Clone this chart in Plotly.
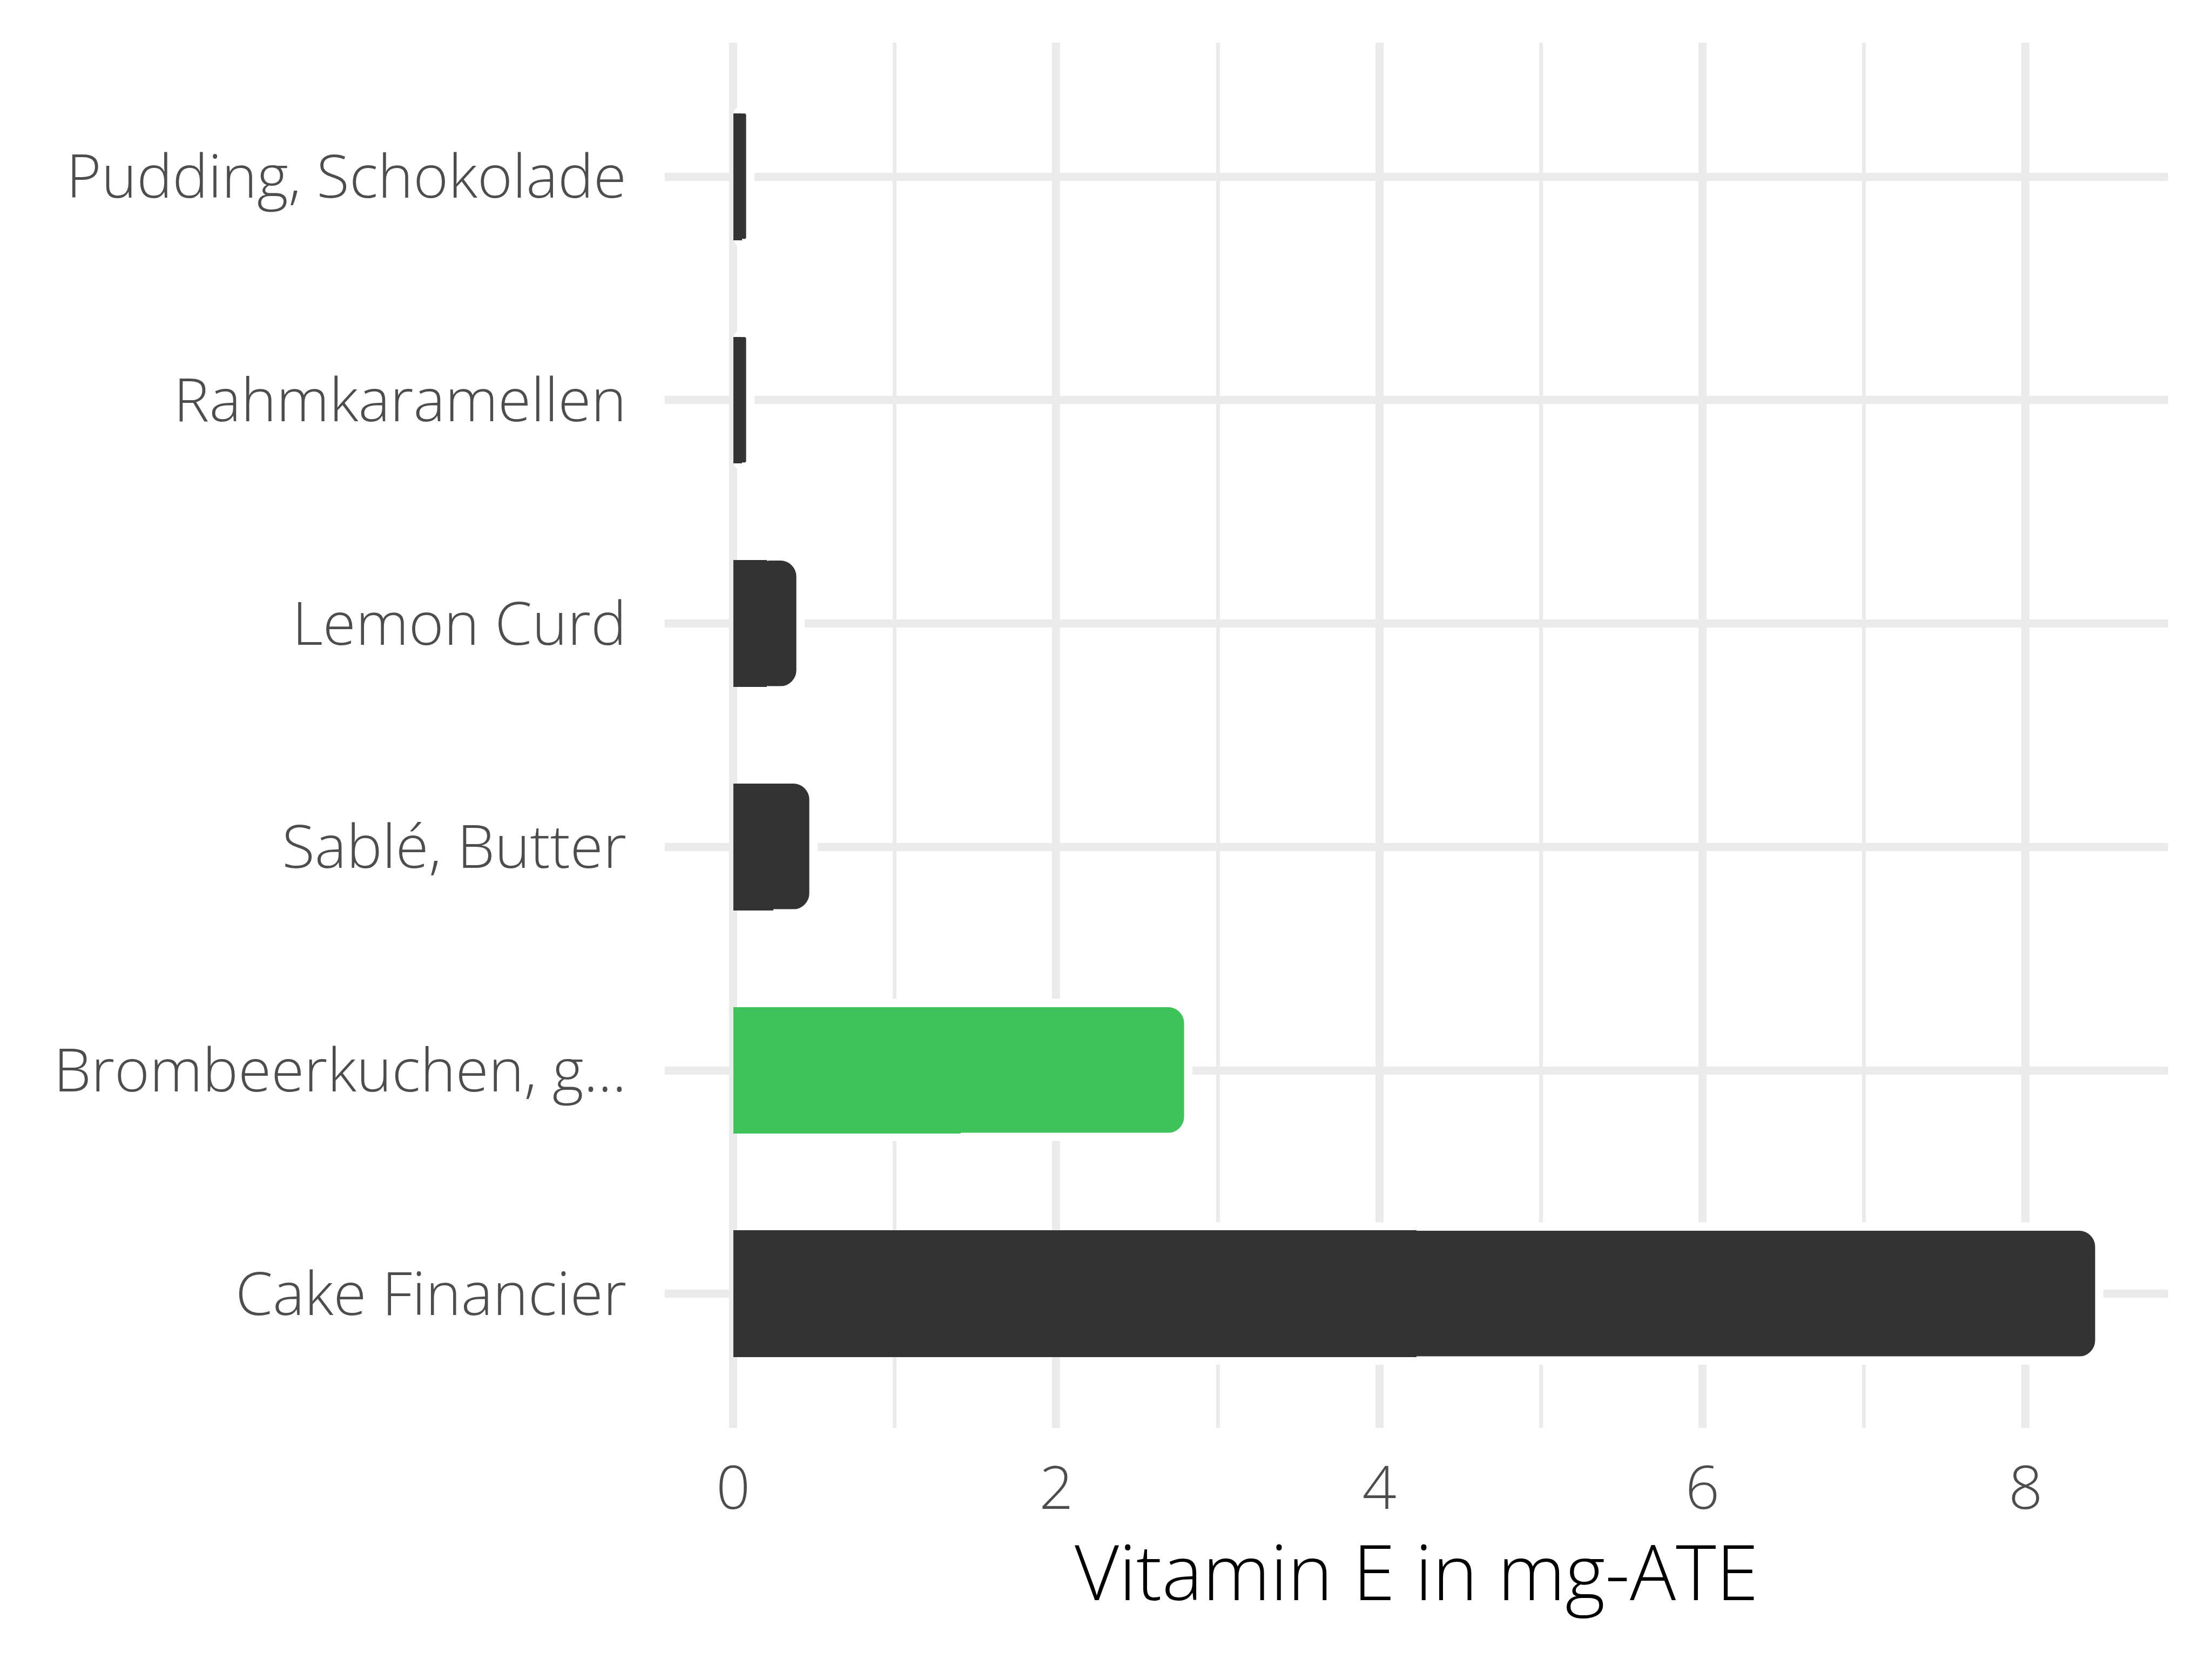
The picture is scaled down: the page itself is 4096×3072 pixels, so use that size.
import plotly.graph_objects as go

# Data (first label is drawn at the top)
labels = ["Pudding, Schokolade", "Rahmkaramellen", "Lemon Curd",
          "Sablé, Butter", "Brombeerkuchen, g...", "Cake Financier"]
values = [0.11, 0.11, 0.42, 0.50, 2.82, 8.46]
highlight = [False, False, False, False, True, False]
x_tick_vals = [0, 2, 4, 6, 8]
x_tick_text = ["0", "2", "4", "6", "8"]
x_title = "Vitamin E in mg-ATE"

DARK = "#333333"
GREEN = "#3EC35A"
colors = [GREEN if h else DARK for h in highlight]

W, H = 4096, 3072
OFF = 8  # page body offset compensation
L, R, T, B = 1230.5 - OFF, 81 + OFF, 78.5 - OFF, 428.4 + OFF
plot_h = H - T - B

cat_order = labels[::-1]

fig = go.Figure()
# rounded outer part with white outline (end of the bar)
fig.add_trace(go.Bar(
    orientation="h", y=labels,
    x=[v * 0.75 for v in values], base=[v * 0.25 for v in values],
    width=0.6, marker=dict(color=colors, line=dict(color="white", width=15.4),
                           cornerradius=38),
    hoverinfo="skip", showlegend=False))
# plain inner part (start of the bar, square)
fig.add_trace(go.Bar(
    orientation="h", y=labels,
    x=[v * 0.5 for v in values], base=[0 for _ in values],
    width=0.567, marker=dict(color=colors, line=dict(width=0)),
    hoverinfo="skip", showlegend=False))

font_family = "Open Sans"
fig.update_layout(
    width=W, height=H, autosize=False,
    margin=dict(l=L, r=R, t=T, b=B, pad=0),
    paper_bgcolor="white", plot_bgcolor="white",
    barmode="overlay", bargap=0,
    font=dict(family=font_family, color="#4D4D4D", size=111, weight=300),
)
fig.add_annotation(
    text=x_title, xref="paper", yref="paper", x=0.5, y=-166.0 / plot_h,
    xanchor="center", yanchor="top", showarrow=False, borderpad=0,
    font=dict(family=font_family, size=142, color="black", weight=300),
)
fig.update_xaxes(
    range=[-0.423, 8.883], tickmode="array", tickvals=x_tick_vals, ticktext=x_tick_text,
    showgrid=True, gridcolor="#EBEBEB", gridwidth=14.5, zeroline=False,
    showline=False, ticks="", ticklen=0,
    minor=dict(dtick=1, tick0=0, showgrid=True, gridcolor="#EBEBEB", gridwidth=6.8),
    tickfont=dict(family=font_family, size=111, color="#4D4D4D", weight=300),
    ticklabelstandoff=38,
    automargin=False,
)
fig.update_yaxes(
    type="category", categoryorder="array", categoryarray=cat_order,
    range=[-0.6, 5.6],
    showgrid=True, gridcolor="#EBEBEB", gridwidth=14.5, zeroline=False,
    showline=False, ticks="", ticklen=0,
    tickfont=dict(family=font_family, size=111, color="#4D4D4D", weight=300),
    ticklabelstandoff=70,
    automargin=False,
)

fig.write_html("out.html")
